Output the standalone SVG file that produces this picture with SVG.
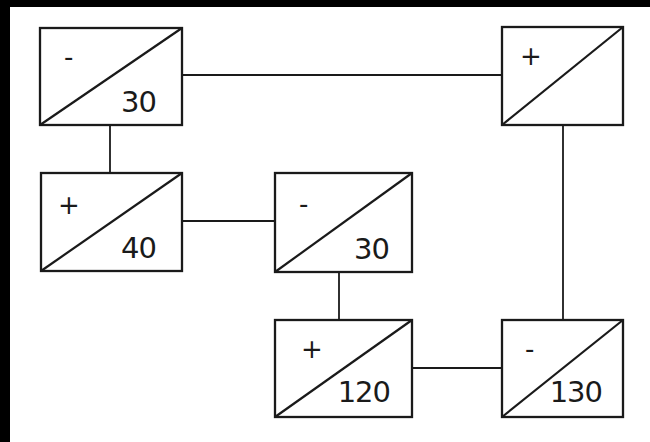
<svg xmlns="http://www.w3.org/2000/svg" width="650" height="442" viewBox="0 0 650 442">
  <style>
    .box { fill: #ffffff; stroke: #1a1a1a; stroke-width: 2.3; }
    .diag { stroke: #1a1a1a; stroke-width: 2.2; fill: none; }
    .wire { stroke: #1a1a1a; stroke-width: 1.8; fill: none; }
    .sign { font-family: "DejaVu Sans", "Liberation Sans", sans-serif; font-size: 26px; fill: #1a1a1a; }
    .val { font-family: "DejaVu Sans", "Liberation Sans", sans-serif; font-size: 29px; fill: #1a1a1a; text-anchor: end; letter-spacing: -1px; }
  </style>
  <rect x="0" y="0" width="650" height="442" fill="#ffffff"/>
  <!-- dark frame on the left and top -->
  <rect x="0" y="0" width="10" height="442" fill="#000000"/>
  <rect x="0" y="0" width="650" height="7" fill="#000000"/>

  <g id="connectors">
    <line class="wire" x1="182" y1="75" x2="502" y2="75"/>
    <line class="wire" x1="110" y1="125" x2="110" y2="173"/>
    <line class="wire" x1="182" y1="221" x2="275" y2="221"/>
    <line class="wire" x1="339" y1="272" x2="339" y2="320"/>
    <line class="wire" x1="412" y1="368" x2="502" y2="368"/>
    <line class="wire" x1="563" y1="125" x2="563" y2="320"/>
  </g>

  <g id="n1">
    <rect class="box" x="40" y="28" width="142" height="97"/>
    <line class="diag" x1="40" y1="125" x2="182" y2="28"/>
    <text class="sign" x="64" y="66">-</text>
    <text class="val" x="156" y="112">30</text>
  </g>

  <g id="n2">
    <rect class="box" x="502" y="27" width="121" height="98"/>
    <line class="diag" x1="502" y1="125" x2="623" y2="27"/>
    <text class="sign" x="520" y="65">+</text>
  </g>

  <g id="n3">
    <rect class="box" x="41" y="173" width="141" height="98"/>
    <line class="diag" x1="41" y1="271" x2="182" y2="173"/>
    <text class="sign" x="58" y="214">+</text>
    <text class="val" x="156" y="258">40</text>
  </g>

  <g id="n4">
    <rect class="box" x="275" y="173" width="137" height="99"/>
    <line class="diag" x1="275" y1="272" x2="412" y2="173"/>
    <text class="sign" x="299" y="213">-</text>
    <text class="val" x="389" y="259">30</text>
  </g>

  <g id="n5">
    <rect class="box" x="275" y="320" width="137" height="97"/>
    <line class="diag" x1="275" y1="417" x2="412" y2="320"/>
    <text class="sign" x="301" y="358">+</text>
    <text class="val" x="390" y="402">120</text>
  </g>

  <g id="n6">
    <rect class="box" x="502" y="320" width="121" height="97"/>
    <line class="diag" x1="502" y1="417" x2="623" y2="320"/>
    <text class="sign" x="525" y="358">-</text>
    <text class="val" x="602" y="402">130</text>
  </g>
</svg>
